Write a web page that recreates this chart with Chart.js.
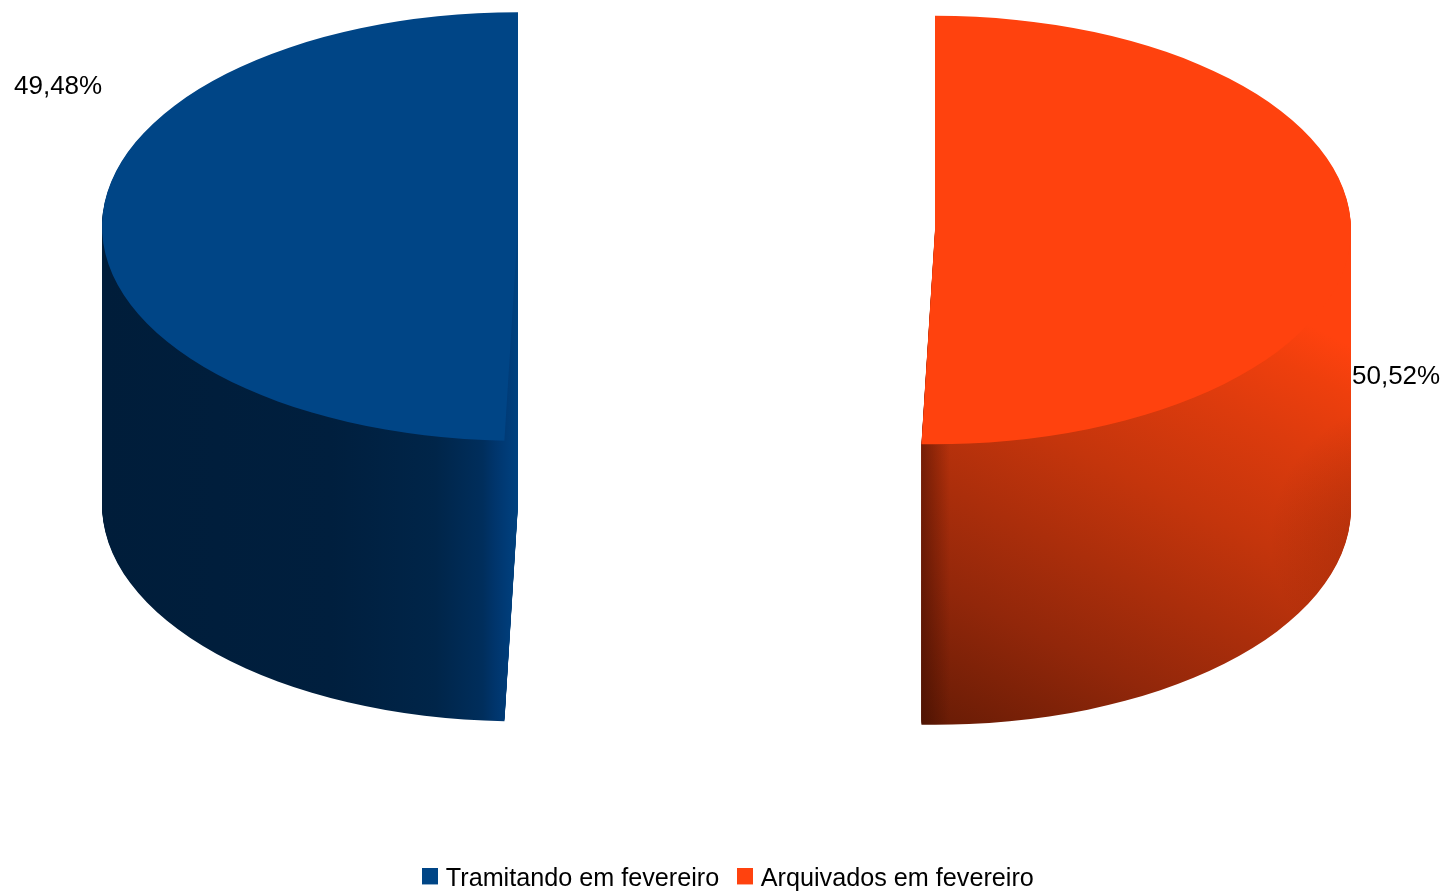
<!DOCTYPE html>
<html>
<head>
<meta charset="utf-8">
<style>html,body{margin:0;padding:0;background:#fff}canvas{display:block}</style>
<script src="https://cdn.jsdelivr.net/npm/chart.js@4"></script>
</head>
<body>
<canvas id="c" width="1447" height="892"></canvas>
<script>
const categories = ['Tramitando em fevereiro', 'Arquivados em fevereiro'];
const values = [49.48, 50.52];
const colors = ['#004586', '#ff420e'];
const valueLabels = ['49,48%', '50,52%'];

const FONT = '"Liberation Sans", Arial, sans-serif';
const total = values[0] + values[1];
const squash = 0.515, depth = 278;

function swatch(color) {
  const s = document.createElement('canvas');
  s.width = 16; s.height = 22;
  const g = s.getContext('2d');
  g.fillStyle = color; g.fillRect(0, 0, 16, 16);
  return s;
}

function wallPaint(g, i) {
  g.globalCompositeOperation = 'source-atop';
  if (i === 0) {
    const h = g.createLinearGradient(102, 0, 518, 0);
    h.addColorStop(0, '#001d3a');
    h.addColorStop(0.55, '#001f3e');
    h.addColorStop(0.80, '#002549');
    h.addColorStop(0.915, '#002e5c');
    h.addColorStop(0.945, '#00356c');
    h.addColorStop(0.975, '#003c78');
    h.addColorStop(1, '#00427f');
    g.fillStyle = h; g.fillRect(0, 0, 1447, 892);
  } else {
    const d = g.createLinearGradient(905, 760, 1160, 250);
    d.addColorStop(0, '#5a1804');
    d.addColorStop(0.3, '#92270a');
    d.addColorStop(0.62, '#c4350c');
    d.addColorStop(0.8, '#dc3b0d');
    d.addColorStop(0.92, '#ee3f0d');
    d.addColorStop(1, '#ff420e');
    g.fillStyle = d; g.fillRect(0, 0, 1447, 892);
    const e = g.createLinearGradient(922, 0, 950, 0);
    e.addColorStop(0, 'rgba(50,10,0,0.45)');
    e.addColorStop(1, 'rgba(50,10,0,0)');
    g.fillStyle = e; g.fillRect(0, 0, 1447, 892);
    const r = g.createRadialGradient(1410, 540, 60, 1410, 540, 140);
    r.addColorStop(0, 'rgba(90,25,5,0.2)');
    r.addColorStop(1, 'rgba(90,25,5,0)');
    g.fillStyle = r; g.fillRect(0, 0, 1447, 892);
  }
  g.globalCompositeOperation = 'source-over';
}

const pie3d = {
  id: 'pie3d',
  beforeDatasetsDraw(chart) {
    const ctx = chart.ctx;
    const arcs = chart.getDatasetMeta(0).data;
    const centerX = [518, 935];
    const centerY = [226.5, 230];
    const off = document.createElement('canvas');
    off.width = chart.width; off.height = chart.height;
    const g = off.getContext('2d');
    arcs.forEach((arc, i) => {
      const place = (c, d) => {
        c.save();
        c.translate(centerX[i] - arc.x, centerY[i] + d);
        c.scale(1, squash * (1 + 0.012 * d / depth));
        c.translate(0, -arc.y);
      };
      g.clearRect(0, 0, off.width, off.height);
      for (let d = depth; d >= 1; d--) {
        place(g, d);
        arc.draw(g);
        g.restore();
      }
      wallPaint(g, i);
      ctx.drawImage(off, 0, 0);
      place(ctx, 0);
      arc.draw(ctx);
      ctx.restore();
    });
    return false;
  },
  afterDraw(chart) {
    const ctx = chart.ctx;
    const spots = [[14, 94], [1352, 384]];
    ctx.save();
    ctx.font = '26px ' + FONT;
    ctx.fillStyle = '#000';
    ctx.textAlign = 'left';
    ctx.textBaseline = 'alphabetic';
    valueLabels.forEach((t, i) => ctx.fillText(t, spots[i][0], spots[i][1]));
    ctx.restore();
  }
};

new Chart(document.getElementById('c'), {
  type: 'pie',
  data: {
    labels: categories,
    datasets: [{
      data: values,
      backgroundColor: colors,
      borderWidth: 0,
      radius: 416
    }]
  },
  plugins: [pie3d],
  options: {
    responsive: false,
    animation: false,
    rotation: -values[0] / total * 360,
    layout: { padding: { left: 14, bottom: -10 } },
    plugins: {
      tooltip: { enabled: false },
      legend: {
        position: 'bottom',
        labels: {
          color: '#000',
          font: { family: FONT, size: 25.2 },
          usePointStyle: true,
          pointStyleWidth: 6,
          boxHeight: 16,
          padding: 23,
          generateLabels(chart) {
            const items = Chart.overrides.pie.plugins.legend.labels.generateLabels(chart);
            items.forEach((it, i) => { it.pointStyle = swatch(colors[i]); });
            return items;
          }
        }
      }
    }
  }
});
</script>
</body>
</html>
